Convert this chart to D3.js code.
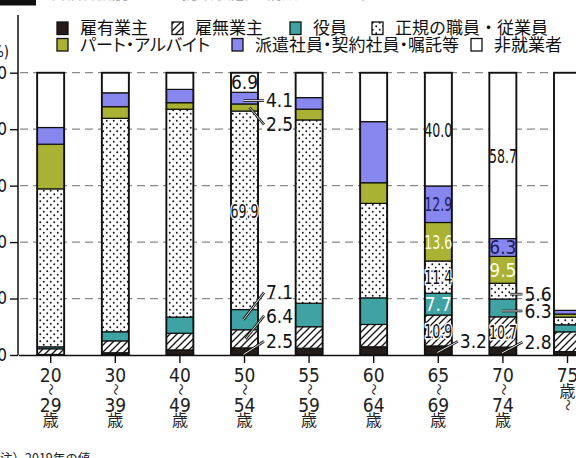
<!DOCTYPE html>
<html>
<head>
<meta charset="utf-8">
<script src="https://cdn.jsdelivr.net/npm/d3@7"></script>
<style>
  body { margin: 0; background: #fff; }
  svg { display: block; }
</style>
</head>
<body>
<svg id="chart" width="576" height="458"></svg>
<script>
// age groups (x categories)
const ageGroups = ["20～29歳", "30～39歳", "40～49歳", "50～54歳", "55～59歳", "60～64歳", "65～69歳", "70～74歳", "75歳～"];

// series, bottom to top
const seriesNames = ["雇有業主", "雇無業主", "役員", "正規の職員・従業員", "パート・アルバイト", "派遣社員・契約社員・嘱託等", "非就業者"];

// values in % (labelled ones, others estimated)
const employers     = [0.2, 0.8, 1.8, 2.5, 2.4, 2.9, 3.2, 2.8, 1.2];
const selfEmployed  = [2.0, 4.2, 5.9, 6.4, 7.6, 7.9, 10.9, 10.7, 7.0];
const executives    = [0.7, 3.2, 5.7, 7.1, 8.3, 9.4, 7.7, 6.3, 2.5];
const regularStaff  = [55.9, 75.4, 73.5, 69.9, 64.8, 33.4, 11.4, 5.6, 2.7];
const partTime      = [15.8, 4.1, 2.3, 2.5, 3.8, 7.3, 13.6, 9.5, 1.1];
const contractStaff = [5.9, 4.9, 4.7, 4.1, 4.1, 21.6, 12.9, 6.3, 1.3];
const notEmployed   = [19.4, 7.1, 5.9, 6.9, 8.8, 17.3, 40.0, 58.7, 84.1];

const yTicks = [0, 20, 40, 60, 80, 100];

const seriesValues = [employers, selfEmployed, executives, regularStaff, partTime, contractStaff, notEmployed];

// value labels drawn inside the bars
const insideLabels = {
  "50～54歳": ["正規の職員・従業員", "非就業者"],
  "65～69歳": ["雇無業主", "役員", "正規の職員・従業員", "パート・アルバイト", "派遣社員・契約社員・嘱託等", "非就業者"],
  "70～74歳": ["雇無業主", "派遣社員・契約社員・嘱託等", "パート・アルバイト", "非就業者"]
};

// value labels pulled out to the right with a leader line
const callouts = [
  { age: "50～54歳", key: "派遣社員・契約社員・嘱託等", dy: 2.5, flat: true },
  { age: "50～54歳", key: "パート・アルバイト", dy: 17, sx: 6 },
  { age: "50～54歳", key: "役員", dy: -27 },
  { age: "50～54歳", key: "雇無業主", dy: -23, sx: 2 },
  { age: "50～54歳", key: "雇有業主", dy: -10, sy: 3 },
  { age: "65～69歳", key: "雇有業主", dy: -9, sy: 2 },
  { age: "70～74歳", key: "正規の職員・従業員", dy: 3, flat: true, sx: 8 },
  { age: "70～74歳", key: "役員", dy: 3, flat: true },
  { age: "70～74歳", key: "雇有業主", dy: -9, sy: 2 }
];

const fills = {
  "雇有業主": "#231c18",
  "雇無業主": "url(#hatch)",
  "役員": "#3fa3a4",
  "正規の職員・従業員": "url(#dots)",
  "パート・アルバイト": "#a9b232",
  "派遣社員・契約社員・嘱託等": "#8787ef",
  "非就業者": "#ffffff"
};
const insideColor = {
  "雇無業主": "halo",
  "役員": "#ffffff",
  "正規の職員・従業員": "halo",
  "パート・アルバイト": "#fdfbe6",
  "派遣社員・契約社員・嘱託等": "#1c1c58",
  "非就業者": "#111"
};

const JP = "'Noto Sans CJK JP', sans-serif";
const NUM = "'Liberation Sans Narrow', 'DejaVu Sans Condensed', 'Roboto Condensed', sans-serif";

const svg = d3.select("#chart");

// patterns
const defs = svg.append("defs");
const hatch = defs.append("pattern")
  .attr("id", "hatch")
  .attr("patternUnits", "userSpaceOnUse")
  .attr("width", 7).attr("height", 7);
hatch.append("rect").attr("width", 7).attr("height", 7).attr("fill", "#fff");
hatch.append("path")
  .attr("d", "M-1.75,1.75 l3.5,-3.5 M0,7 l7,-7 M5.25,8.75 l3.5,-3.5")
  .attr("stroke", "#111").attr("stroke-width", 1.3);

const dots = defs.append("pattern")
  .attr("id", "dots")
  .attr("patternUnits", "userSpaceOnUse")
  .attr("width", 7).attr("height", 7);
dots.append("rect").attr("width", 7).attr("height", 7).attr("fill", "#fff");
dots.append("circle").attr("cx", 1.75).attr("cy", 1.75).attr("r", 0.95).attr("fill", "#111");
dots.append("circle").attr("cx", 5.25).attr("cy", 5.25).attr("r", 0.95).attr("fill", "#111");

// title strip (cut off at the top of the picture)
svg.append("rect").attr("x", 0).attr("y", 0).attr("width", 36).attr("height", 5.5).attr("fill", "#111");
svg.append("text")
  .attr("x", 44).attr("y", -1.5)
  .attr("font-family", JP).attr("font-size", 17)
  .attr("fill", "#aaa")
  .text("年齢階級別にみた就業状態の構成（2019年）");

// scales
const x = d3.scaleBand()
  .domain(ageGroups)
  .range([18.4, 18.4 + 9 * 64.6])
  .paddingInner(0.582)
  .paddingOuter(0.291);

const y = d3.scaleLinear().domain([0, 100]).range([355, 72.7]);

// data table + 100% stack
const rows = ageGroups.map((age, i) => {
  const row = { age: age };
  seriesNames.forEach((s, j) => { row[s] = seriesValues[j][i]; });
  return row;
});
const stacked = d3.stack().keys(seriesNames).offset(d3.stackOffsetExpand)(rows);

// dashed grid
svg.append("g")
  .selectAll("line")
  .data(yTicks.filter((t) => t > 0))
  .enter()
  .append("line")
  .attr("x1", 20).attr("x2", 576)
  .attr("y1", (d) => y(d)).attr("y2", (d) => y(d))
  .attr("stroke", "#8a8a8a")
  .attr("stroke-width", 1.3)
  .attr("stroke-dasharray", "8,5");

// y axis
const yAxis = svg.append("g")
  .attr("transform", "translate(18,0)")
  .call(d3.axisLeft(y).tickValues(yTicks).tickSize(8).tickPadding(3).tickFormat(d3.format("d")));
yAxis.select(".domain").remove();
yAxis.selectAll(".tick line").attr("stroke", "#111").attr("stroke-width", 1.4);
yAxis.selectAll(".tick text")
  .attr("font-family", NUM).attr("font-size", 17).attr("fill", "#111");
svg.append("line")
  .attr("x1", 18).attr("x2", 18).attr("y1", 15).attr("y2", y(0))
  .attr("stroke", "#111").attr("stroke-width", 1.5);
svg.append("text")
  .attr("x", 9).attr("y", 57)
  .attr("text-anchor", "end")
  .attr("font-family", NUM).attr("font-size", 15).attr("fill", "#111")
  .text("(%)");

// bars
const layers = svg.append("g")
  .selectAll("g")
  .data(stacked)
  .enter()
  .append("g")
  .attr("fill", (d) => fills[d.key]);

layers.selectAll("rect")
  .data((d) => d)
  .enter()
  .append("rect")
  .attr("x", (d) => x(d.data.age))
  .attr("y", (d) => y(d[1] * 100))
  .attr("width", x.bandwidth())
  .attr("height", (d) => y(d[0] * 100) - y(d[1] * 100))
  .attr("stroke", "#111")
  .attr("stroke-width", 1.2);

// bar outlines
svg.append("g")
  .selectAll("rect")
  .data(ageGroups)
  .enter()
  .append("rect")
  .attr("x", (d) => x(d))
  .attr("y", y(100))
  .attr("width", x.bandwidth())
  .attr("height", y(0) - y(100))
  .attr("fill", "none")
  .attr("stroke", "#111")
  .attr("stroke-width", 1.8);

// x axis
const xAxis = svg.append("g")
  .attr("transform", "translate(0," + y(0) + ")")
  .call(d3.axisBottom(x).tickSize(8).tickSizeOuter(0).tickFormat(""));
xAxis.select(".domain").attr("stroke", "#111").attr("stroke-width", 1.6);
xAxis.selectAll(".tick line").attr("stroke", "#111").attr("stroke-width", 1.4);

// x labels, written vertically
const xLabels = svg.append("g");
ageGroups.forEach((age) => {
  const cx = x(age) + x.bandwidth() / 2;
  const g = xLabels.append("g").attr("fill", "#222");
  const m = age.match(/^(\d+)～(\d+)歳$/);
  const wave = (cy) => g.append("text")
    .attr("transform", "translate(" + cx + "," + cy + ") rotate(90)")
    .attr("text-anchor", "middle").attr("dy", "0.35em")
    .attr("font-family", JP).attr("font-size", 12)
    .text("〜");
  if (m) {
    g.append("text").attr("x", cx).attr("y", 382).attr("text-anchor", "middle")
      .attr("font-family", NUM).attr("font-size", 19).text(m[1]);
    wave(389.5);
    g.append("text").attr("x", cx).attr("y", 411.7).attr("text-anchor", "middle")
      .attr("font-family", NUM).attr("font-size", 19).text(m[2]);
    g.append("text").attr("x", cx).attr("y", 425.5).attr("text-anchor", "middle")
      .attr("font-family", JP).attr("font-size", 16).text("歳");
  } else {
    const n = age.match(/^(\d+)歳/);
    g.append("text").attr("x", cx).attr("y", 382).attr("text-anchor", "middle")
      .attr("font-family", NUM).attr("font-size", 19).text(n[1]);
    g.append("text").attr("x", cx).attr("y", 396.5).attr("text-anchor", "middle")
      .attr("font-family", JP).attr("font-size", 16).text("歳");
    wave(405);
  }
});

// helpers to find a segment
function segment(age, key) {
  const layer = stacked.find((l) => l.key === key);
  return layer.find((d) => d.data.age === age);
}
const fmt = d3.format(".1f");

// inside labels: two-digit values are squeezed to fit the bar
const inside = svg.append("g");
Object.keys(insideLabels).forEach((age) => {
  const cx = x(age) + x.bandwidth() / 2;
  insideLabels[age].forEach((key) => {
    const d = segment(age, key);
    const cy = (y(d[0] * 100) + y(d[1] * 100)) / 2;
    const color = insideColor[key];
    const v = d.data[key];
    const wide = v >= 10;
    const t = inside.append("text")
      .attr("transform", "translate(" + cx + "," + cy + ") scale(" + (wide ? 0.7 : 1) + ",1)")
      .attr("text-anchor", "middle")
      .attr("dy", "0.36em")
      .attr("font-family", NUM)
      .attr("font-size", wide ? 20 : 19)
      .text(fmt(v));
    if (color === "halo") {
      t.attr("fill", "#111").attr("stroke", "#fff").attr("stroke-width", 3.2)
        .attr("paint-order", "stroke").attr("stroke-linejoin", "round");
    } else {
      t.attr("fill", color);
    }
  });
});

// callouts
const outside = svg.append("g");
callouts.forEach((c) => {
  const d = segment(c.age, c.key);
  const cx = x(c.age) + x.bandwidth() / 2;
  const mid = (y(d[0] * 100) + y(d[1] * 100)) / 2;
  const ly = mid + c.dy;
  const lx = x(c.age) + x.bandwidth() + 8;
  const x0 = cx - 1 + (c.sx || 0);
  const y0 = c.flat ? ly : mid + (c.sy || 0);
  [["#111", 2.6], ["#fff", 0.9]].forEach(([col, w]) => {
    outside.append("line")
      .attr("x1", x0).attr("y1", y0)
      .attr("x2", lx - 2).attr("y2", ly)
      .attr("stroke", col).attr("stroke-width", w);
  });
  outside.append("text")
    .attr("x", lx).attr("y", ly).attr("dy", "0.36em")
    .attr("font-family", NUM).attr("font-size", 19)
    .attr("fill", "#111")
    .text(fmt(d.data[c.key]));
});

// legend
const legendItems = [
  { key: "雇有業主", x: 57, row: 0 },
  { key: "雇無業主", x: 172, row: 0 },
  { key: "役員", x: 290, row: 0 },
  { key: "正規の職員・従業員", x: 372, row: 0 },
  { key: "パート・アルバイト", x: 57, row: 1, palt: true },
  { key: "派遣社員・契約社員・嘱託等", x: 232, row: 1, palt: true },
  { key: "非就業者", x: 471, row: 1 }
];
const legend = svg.append("g");
legendItems.forEach((it) => {
  const top = it.row === 0 ? 22 : 38.5;
  legend.append("rect")
    .attr("x", it.x).attr("y", top)
    .attr("width", 11).attr("height", 12.5)
    .attr("fill", fills[it.key])
    .attr("stroke", "#111").attr("stroke-width", 1.3);
  const t = legend.append("text")
    .attr("x", it.x + 23).attr("y", top + 12.2)
    .attr("font-family", JP).attr("font-size", 17)
    .attr("fill", "#111")
    .text(it.key);
  if (it.palt) t.style("font-feature-settings", "'palt'");
});

// note (cut off at the bottom)
svg.append("text")
  .attr("x", -12.5).attr("y", 463)
  .attr("font-family", JP).attr("font-size", 12.5)
  .attr("fill", "#222")
  .text("（注）2019年の値");
</script>
</body>
</html>
